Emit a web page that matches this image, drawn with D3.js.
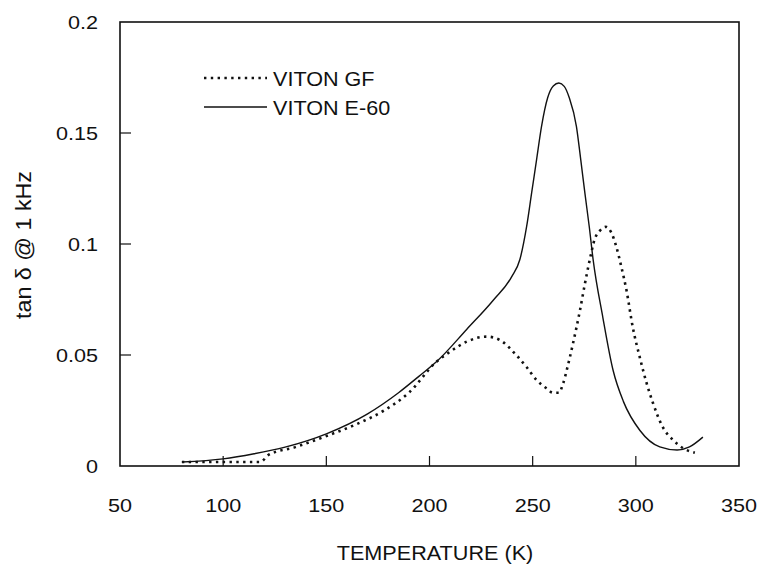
<!DOCTYPE html>
<html>
<head>
<meta charset="utf-8">
<script src="https://cdn.jsdelivr.net/npm/d3@7"></script>
<style>
  body { margin: 0; background: #fff; }
  text { font-family: "Liberation Sans", Arial, sans-serif; fill: #111; }
</style>
</head>
<body>
<svg id="chart" width="762" height="567"></svg>
<script>
// VITON E-60 (solid)
var e60Temp = [80, 100, 115, 130, 150, 170, 185, 195, 204, 218, 231, 240, 243.8, 247.1, 249.5, 251.9, 254.3, 257.3, 260, 262.7, 265.3, 267.7, 271.2, 273.3, 275.3, 277.4, 279.3, 284, 289, 294, 302, 311.6, 320, 326, 332.5];
var e60Tan  = [0.0018, 0.0032, 0.0055, 0.0085, 0.0145, 0.0235, 0.033, 0.0405, 0.0475, 0.0615, 0.0748, 0.0855, 0.093, 0.108, 0.123, 0.138, 0.153, 0.166, 0.1712, 0.1725, 0.171, 0.166, 0.153, 0.138, 0.123, 0.108, 0.093, 0.067, 0.043, 0.029, 0.016, 0.0086, 0.0072, 0.0086, 0.013];

// VITON GF (dotted)
var gfTemp = [80, 100, 118, 122, 135, 150, 165, 178, 190, 203.4, 210, 218, 227.7, 234, 242, 247, 251.9, 256.7, 259.8, 262.7, 264.7, 267, 269.5, 272.9, 275.3, 277.7, 280, 282.6, 285.5, 288.2, 290.6, 293, 295.5, 298.5, 301.9, 305.2, 308.3, 313, 318, 322.8, 328.6];
var gfTan  = [0.0018, 0.0018, 0.0018, 0.005, 0.0085, 0.0135, 0.019, 0.025, 0.033, 0.047, 0.0515, 0.056, 0.0583, 0.0568, 0.050, 0.0446, 0.0387, 0.035, 0.033, 0.033, 0.037, 0.045, 0.055, 0.070, 0.082, 0.093, 0.102, 0.106, 0.1077, 0.105, 0.0986, 0.0896, 0.079, 0.0626, 0.049, 0.0374, 0.0284, 0.0176, 0.0117, 0.0081, 0.006];

var xTicks = [50, 100, 150, 200, 250, 300, 350];
var yTicks = [0, 0.05, 0.1, 0.15, 0.2];
var seriesNames = ["VITON GF", "VITON E-60"];

var svg = d3.select("#chart");
var margin = { left: 120, right: 23, top: 22, bottom: 101 };
var W = 762, H = 567;

var x = d3.scaleLinear().domain([50, 350]).range([margin.left, W - margin.right]);
var y = d3.scaleLinear().domain([0, 0.2]).range([H - margin.bottom, margin.top]);

// frame
svg.append("rect")
  .attr("x", x(50)).attr("y", y(0.2))
  .attr("width", x(350) - x(50)).attr("height", y(0) - y(0.2))
  .attr("fill", "none").attr("stroke", "#111").attr("stroke-width", 1.6);

// inward ticks
svg.append("g").selectAll("line")
  .data(xTicks.slice(1, -1))
  .enter().append("line")
  .attr("x1", d => x(d)).attr("x2", d => x(d))
  .attr("y1", y(0)).attr("y2", y(0) - 10)
  .attr("stroke", "#111").attr("stroke-width", 1.2);

svg.append("g").selectAll("line")
  .data(yTicks.slice(1, -1))
  .enter().append("line")
  .attr("x1", x(50)).attr("x2", x(50) + 11)
  .attr("y1", d => y(d)).attr("y2", d => y(d))
  .attr("stroke", "#111").attr("stroke-width", 1.2);

// tick labels (the original face is wide, so stretch a bit)
svg.append("g").selectAll("text")
  .data(xTicks)
  .enter().append("text")
  .attr("transform", d => "translate(" + x(d) + ",512) scale(1.2,1)")
  .attr("text-anchor", "middle")
  .attr("font-size", 18)
  .text(d => d);

svg.append("g").selectAll("text")
  .data(yTicks)
  .enter().append("text")
  .attr("transform", d => "translate(98," + (y(d) + 6.5) + ") scale(1.2,1)")
  .attr("text-anchor", "end")
  .attr("font-size", 18)
  .text(d => d);

// axis titles
svg.append("text")
  .attr("transform", "translate(435,560) scale(1.03,1)")
  .attr("text-anchor", "middle")
  .attr("font-size", 21)
  .text("TEMPERATURE  (K)");

svg.append("text")
  .attr("transform", "translate(31,245) rotate(-90) scale(1.06,1)")
  .attr("text-anchor", "middle")
  .attr("font-size", 22)
  .text("tan δ @ 1 kHz");

var line = d3.line()
  .x(d => x(d[0]))
  .y(d => y(d[1]))
  .curve(d3.curveMonotoneX);

var e60 = e60Temp.map((t, i) => [t, e60Tan[i]]);
var gf = gfTemp.map((t, i) => [t, gfTan[i]]);

svg.append("path")
  .datum(e60)
  .attr("d", line)
  .attr("fill", "none")
  .attr("stroke", "#111")
  .attr("stroke-width", 1.4);

svg.append("path")
  .datum(gf)
  .attr("d", line)
  .attr("fill", "none")
  .attr("stroke", "#111")
  .attr("stroke-width", 2.6)
  .attr("stroke-dasharray", "2.4,4.4");

// legend
var legend = svg.append("g");
var legendY = [78, 107];
legend.selectAll("line")
  .data(seriesNames)
  .enter().append("line")
  .attr("x1", 204).attr("x2", 267)
  .attr("y1", (d, i) => legendY[i]).attr("y2", (d, i) => legendY[i])
  .attr("stroke", "#111")
  .attr("stroke-width", (d, i) => i === 0 ? 2.6 : 1.4)
  .attr("stroke-dasharray", (d, i) => i === 0 ? "2.4,4.4" : null);

legend.selectAll("text")
  .data(seriesNames)
  .enter().append("text")
  .attr("transform", (d, i) => "translate(273," + (legendY[i] + 7.5) + ") scale(1.08,1)")
  .attr("font-size", 20)
  .text(d => d);
</script>
</body>
</html>
